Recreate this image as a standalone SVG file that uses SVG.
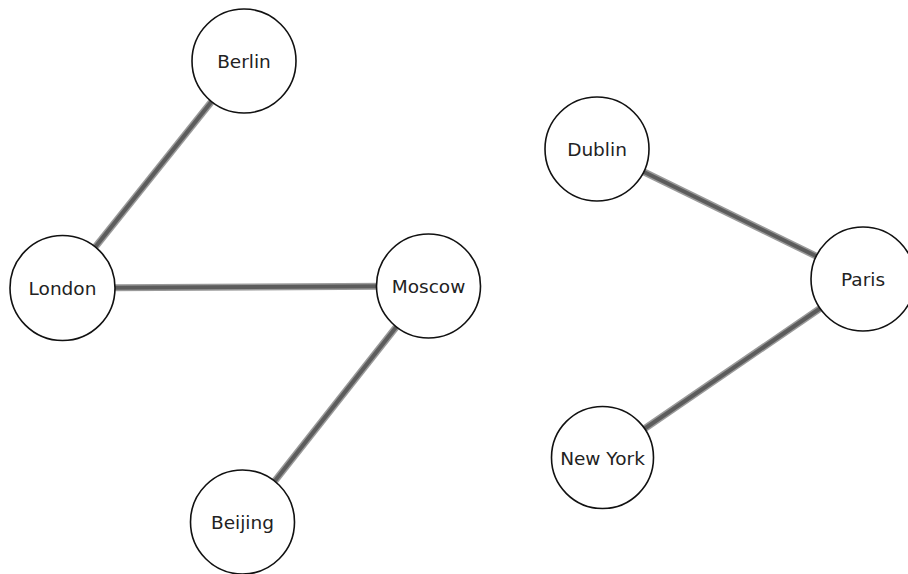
<svg xmlns="http://www.w3.org/2000/svg" width="908" height="574" viewBox="0 0 908 574">
<style>
.edge-out{stroke:#9a9a9a;stroke-width:7;fill:none}
.edge{stroke:#5c5c5c;stroke-width:4;fill:none}
.node circle{fill:#ffffff;stroke:#111111;stroke-width:1.6}
.node text{font-family:"DejaVu Sans",Verdana,sans-serif;font-size:18.5px;fill:#222222;text-anchor:middle}
</style>
<rect width="908" height="574" fill="#ffffff"/>
<g id="connectors">
<g id="berlin-london"><line class="edge-out" x1="244" y1="61" x2="62.5" y2="288"/><line class="edge" x1="244" y1="61" x2="62.5" y2="288"/></g>
<g id="london-moscow"><line class="edge-out" x1="62.5" y1="288" x2="428.5" y2="286"/><line class="edge" x1="62.5" y1="288" x2="428.5" y2="286"/></g>
<g id="moscow-beijing"><line class="edge-out" x1="428.5" y1="286" x2="242.5" y2="522"/><line class="edge" x1="428.5" y1="286" x2="242.5" y2="522"/></g>
<g id="dublin-paris"><line class="edge-out" x1="597" y1="149" x2="863" y2="279"/><line class="edge" x1="597" y1="149" x2="863" y2="279"/></g>
<g id="paris-newyork"><line class="edge-out" x1="863" y1="279" x2="602.5" y2="457.5"/><line class="edge" x1="863" y1="279" x2="602.5" y2="457.5"/></g>
</g>
<g id="node-berlin" class="node"><circle cx="244" cy="61" r="52"/><text x="244" y="68">Berlin</text></g>
<g id="node-london" class="node"><circle cx="62.5" cy="288" r="52.5"/><text x="62.5" y="295">London</text></g>
<g id="node-moscow" class="node"><circle cx="428.5" cy="286" r="52"/><text x="428.5" y="293">Moscow</text></g>
<g id="node-beijing" class="node"><circle cx="242.5" cy="522" r="52"/><text x="242.5" y="529">Beijing</text></g>
<g id="node-dublin" class="node"><circle cx="597" cy="149" r="52"/><text x="597" y="156">Dublin</text></g>
<g id="node-paris" class="node"><circle cx="863" cy="279" r="52"/><text x="863" y="286">Paris</text></g>
<g id="node-newyork" class="node"><circle cx="602.5" cy="457.5" r="51"/><text x="602.5" y="464.5">New York</text></g>
</svg>
